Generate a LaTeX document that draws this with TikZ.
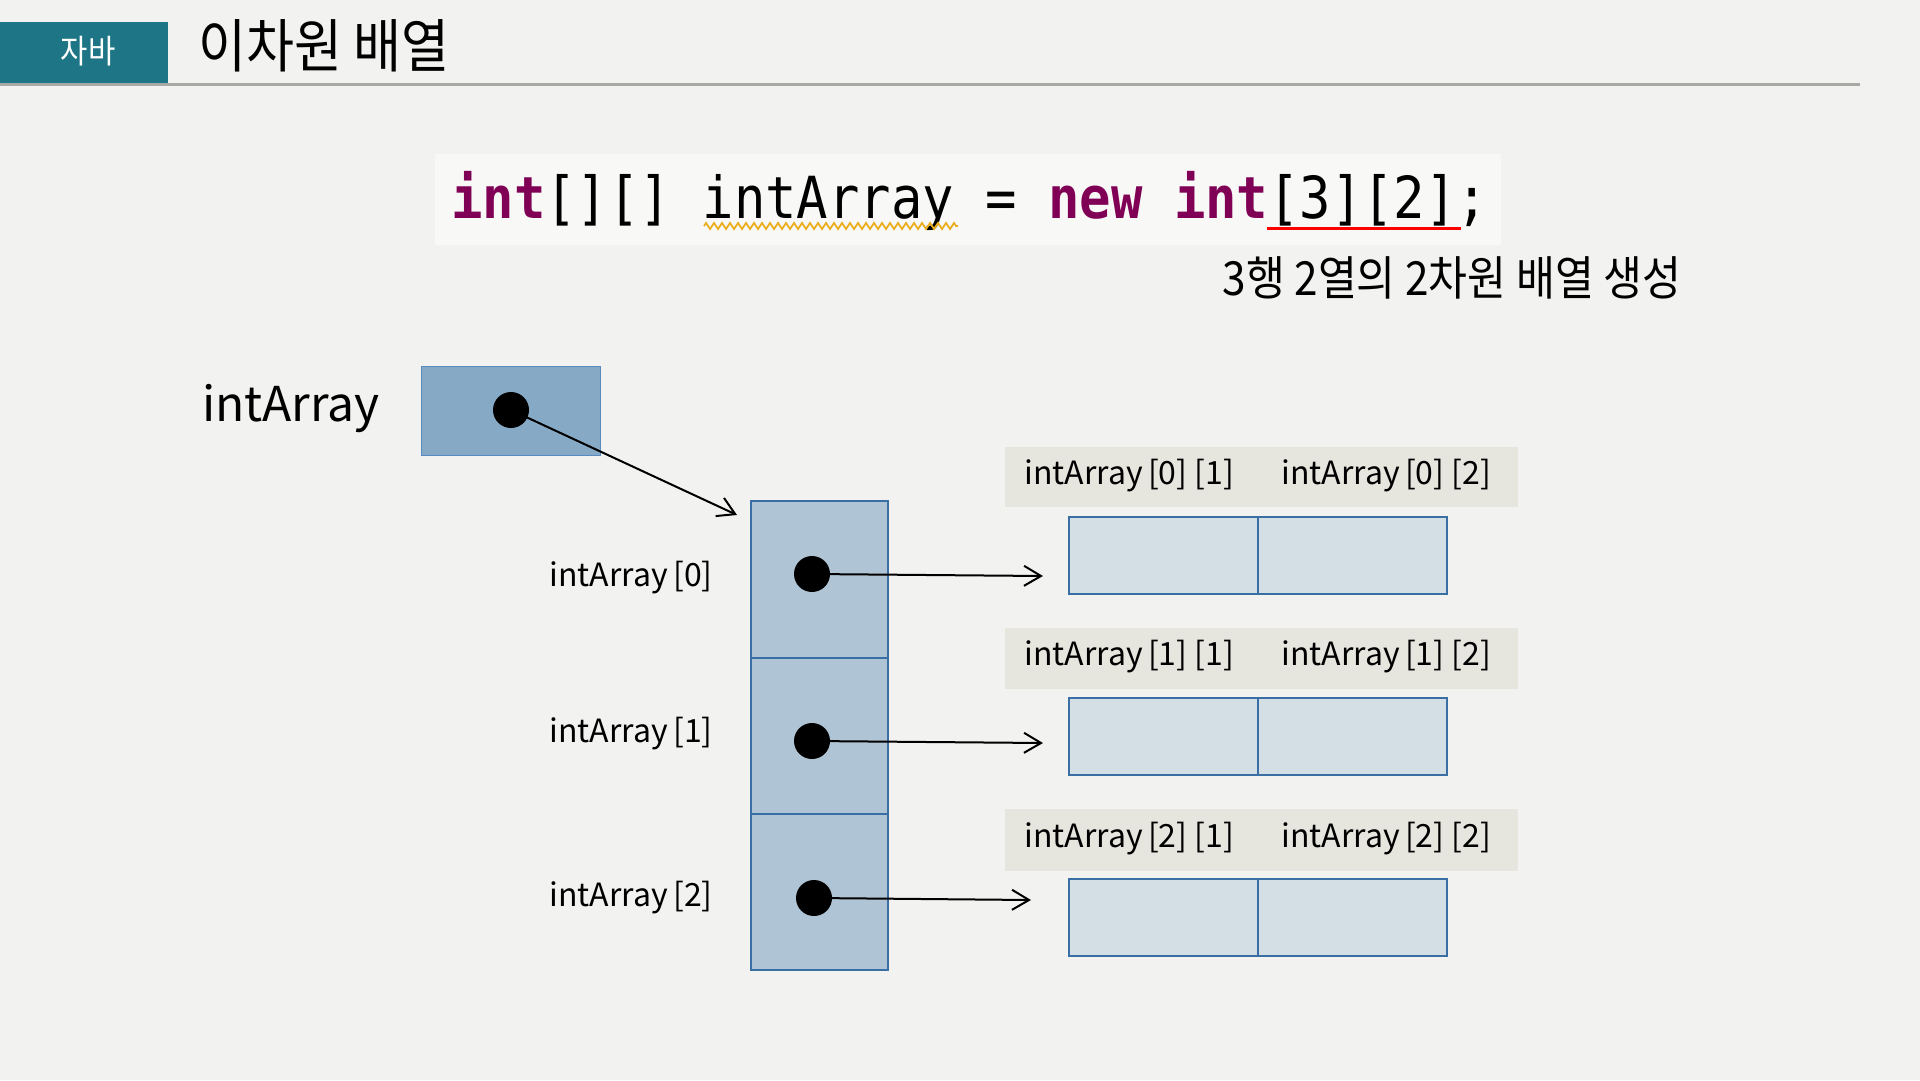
\documentclass[tikz,border=0pt]{standalone}
\usepackage{fontspec}
\setmainfont{Noto Sans CJK KR}
\newfontfamily\krn[FakeStretch=0.9]{Noto Sans CJK KR}
\newfontfamily\codefont[FakeStretch=0.9]{DejaVu Sans Mono}
\usetikzlibrary{arrows.meta,decorations.pathmorphing}
\definecolor{bgc}{HTML}{F2F2F0}
\definecolor{tealc}{HTML}{1D7585}
\definecolor{rulec}{HTML}{A8A8A4}
\definecolor{codebgc}{HTML}{F8F8F6}
\definecolor{kwc}{HTML}{7F0055}
\definecolor{refc}{HTML}{86A9C6}
\definecolor{refb}{HTML}{5A8BC0}
\definecolor{colc}{HTML}{AFC5D5}
\definecolor{cellb}{HTML}{3A6FA6}
\definecolor{rowc}{HTML}{D3DEE5}
\definecolor{bandc}{HTML}{E6E6DE}
\definecolor{wavyc}{HTML}{E8B020}
\tikzset{
  colcell/.style={draw=cellb, line width=2pt, fill=colc, minimum width=137pt, minimum height=156pt, inner sep=0pt},
  rowcell/.style={draw=cellb, line width=2pt, fill=rowc, minimum width=189pt, minimum height=77pt, inner sep=0pt},
  band/.style={fill=bandc, minimum width=513pt, minimum height=61pt, inner sep=0pt},
  dot/.style={circle, fill=black, minimum size=36pt, inner sep=0pt},
  lbl/.style={font=\fontsize{32}{38}\selectfont, inner sep=0pt},
  ptr/.style={line width=2pt, -{Straight Barb[length=17pt,width=20pt,line width=2pt]}},
}
\begin{document}
\begin{tikzpicture}[x=1pt,y=-1pt]
\fill[bgc] (0,0) rectangle (1920,1080);
\useasboundingbox (0,0) rectangle (1920,1080);
% header
\draw[rulec, line width=3pt] (0,84.5) -- (1860,84.5);
\node[fill=tealc, minimum width=168pt, minimum height=61pt, inner sep=0pt] (tag) at (84,52.5) {};
\node[inner sep=0pt, text=white, font=\krn\fontsize{33}{38}\selectfont] (tagtext) at (88,51) {자바};
\node[anchor=west, inner sep=0pt, font=\krn\fontsize{58}{66}\selectfont] (title) at (198,46) {이차원 배열};
% code
\node[fill=codebgc, minimum width=1066pt, minimum height=91pt, inner sep=0pt] (codebg) at (968,199.5) {};
\node[anchor=base west, inner sep=0pt, font=\codefont\fontsize{58}{64}\selectfont] (code) at (451,218)
  {\textcolor{kwc}{\bfseries int}[][] intArray = \textcolor{kwc}{\bfseries new} \textcolor{kwc}{\bfseries int}[3][2];};
\draw[wavyc, line width=1.8pt, decorate, decoration={zigzag, amplitude=3pt, segment length=8pt}] (704,226) -- (958,226);
\draw[red, line width=3pt] (1267,228) -- (1461,228);
\node[inner sep=0pt, font=\krn\fontsize{47}{54}\selectfont] (sub) at (1452,278) {3행 2열의 2차원 배열 생성};
% reference variable
\node[inner sep=0pt, font=\fontsize{48}{56}\selectfont] (varname) at (291,409) {intArray};
\node[draw=refb, line width=1pt, fill=refc, minimum width=179pt, minimum height=89pt, inner sep=0pt] (ref) at (510.5,410.5) {};
\node[dot] (d) at (511,410) {};
% column
\node[colcell, minimum height=157pt] (c0) at (819.5,579.5) {};
\node[colcell] (c1) at (819.5,736) {};
\node[colcell] (c2) at (819.5,892) {};
\node[dot] (d0) at (812,574) {};
\node[dot] (d1) at (812,741) {};
\node[dot] (d2) at (814,898) {};
\node[lbl, anchor=east] (l0) at (713,578) {intArray\,[0]};
\node[lbl, anchor=east] (l1) at (713,734) {intArray\,[1]};
\node[lbl, anchor=east] (l2) at (713,898) {intArray\,[2]};
% bands
\node[band, minimum height=60pt] (b0) at (1261.5,477) {};
\node[band] (b1) at (1261.5,658.5) {};
\node[band, minimum height=62pt] (b2) at (1261.5,840) {};
\node[lbl, anchor=west] (t00) at (1024,476) {intArray\,[0] [1]};
\node[lbl, anchor=west] (t01) at (1281,476) {intArray\,[0] [2]};
\node[lbl, anchor=west] (t10) at (1024,657) {intArray\,[1] [1]};
\node[lbl, anchor=west] (t11) at (1281,657) {intArray\,[1] [2]};
\node[lbl, anchor=west] (t20) at (1024,839) {intArray\,[2] [1]};
\node[lbl, anchor=west] (t21) at (1281,839) {intArray\,[2] [2]};
% rows
\node[rowcell] (r00) at (1163.5,555.5) {};
\node[rowcell] (r01) at (1352.5,555.5) {};
\node[rowcell] (r10) at (1163.5,736.5) {};
\node[rowcell] (r11) at (1352.5,736.5) {};
\node[rowcell] (r20) at (1163.5,917.5) {};
\node[rowcell] (r21) at (1352.5,917.5) {};
% pointers
\coordinate (e) at (737,515);
\coordinate (e0) at (1043,576);
\coordinate (e1) at (1043,743);
\coordinate (e2) at (1031,900);
\draw[ptr] (d.center) -- (e);
\draw[ptr] (d0.center) -- (e0);
\draw[ptr] (d1.center) -- (e1);
\draw[ptr] (d2.center) -- (e2);
\end{tikzpicture}
\end{document}
